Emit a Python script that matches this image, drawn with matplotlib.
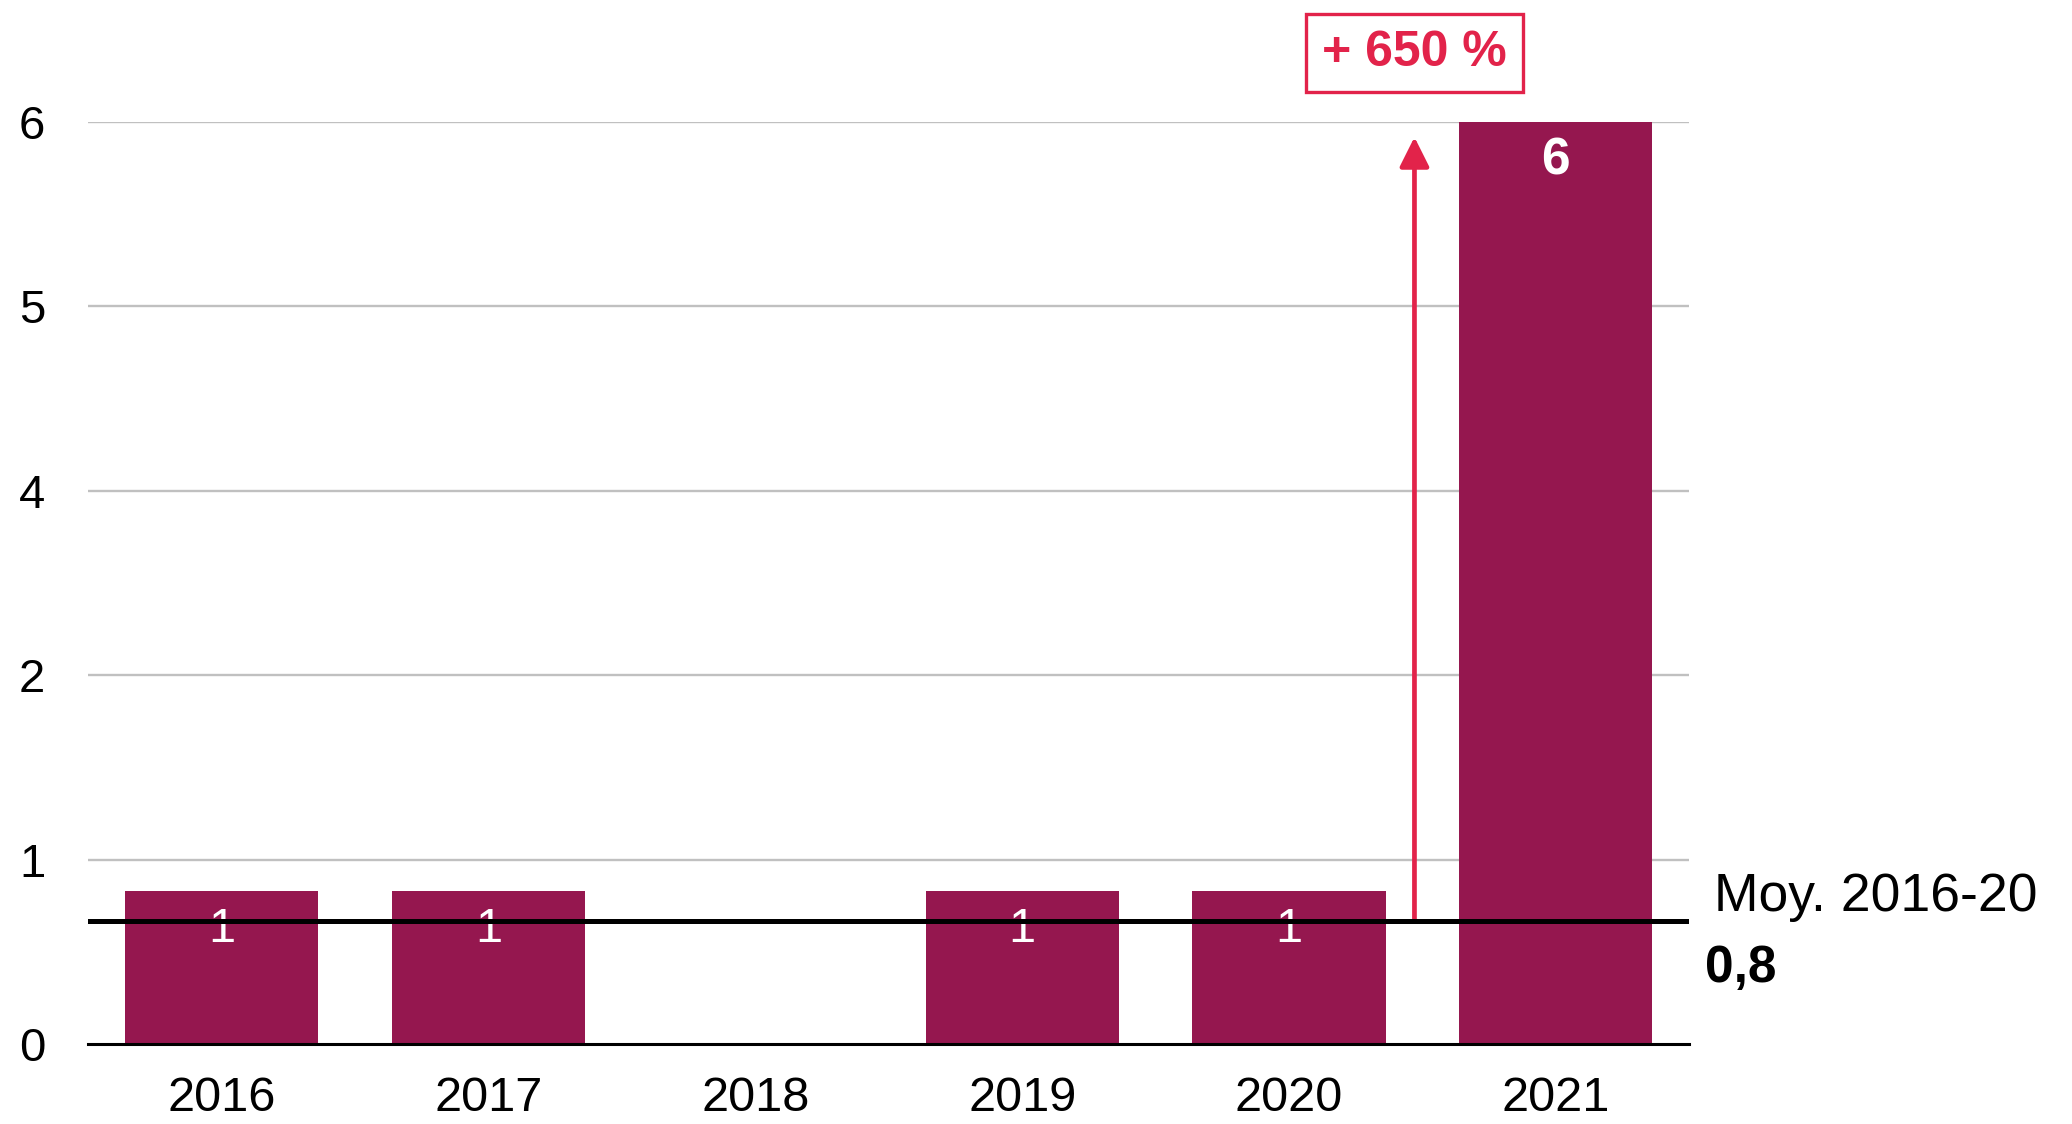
import matplotlib
matplotlib.use("Agg")
import matplotlib.pyplot as plt
import numpy as np

years = ['2016', '2017', '2018', '2019', '2020', '2021']
values = [1, 1, 0, 1, 1, 6]
mean_value = 0.8
mean_label = '0,8'
mean_title = 'Moy. 2016-20'
growth_label = '+ 650 %'

bar_color = '#95174f'
red = '#e2234a'

plt.rcParams['font.family'] = ['Liberation Sans', 'DejaVu Sans']

fig = plt.figure(figsize=(20.72, 11.24), dpi=100)
ax = fig.add_axes([0.0426, 0.0709, 0.7727, 0.8208])

x = np.arange(len(years))
ax.bar(x, values, width=0.724, color=bar_color, zorder=2)

# value labels inside the bars (zero bar has none)
for xi, v in zip(x, values):
    if v == 0:
        continue
    ax.annotate(str(v), xy=(xi, v), xytext=(0, -28), textcoords='offset points',
                ha='center', va='center', color='white', fontsize=35 if v < max(values) else 37,
                fontweight='bold' if v == max(values) else 'normal', zorder=3)

# average line
ax.axhline(mean_value, color='black', lw=3.6, zorder=4)
ax.annotate(mean_title, xy=(len(years) - 0.5, mean_value), xytext=(18, 7.5),
            textcoords='offset points', ha='left', va='baseline', fontsize=38.5,
            annotation_clip=False)
ax.annotate(mean_label, xy=(len(years) - 0.5, mean_value), xytext=(11.5, -44),
            textcoords='offset points', ha='left', va='baseline', fontsize=37,
            fontweight='bold', annotation_clip=False)

# growth arrow from the average up to 2021
arrow_x = x[-1] - 0.53
ax.annotate('', xy=(arrow_x, 5.9), xytext=(arrow_x, mean_value),
            arrowprops=dict(arrowstyle='-|>,head_length=1.0,head_width=0.5',
                            mutation_scale=18, color=red, lw=3.4,
                            shrinkA=0, shrinkB=0), zorder=3)
ax.text(arrow_x, 6.445, growth_label, ha='center', va='center', color=red,
        fontsize=36, fontweight='bold', clip_on=False,
        bbox=dict(boxstyle='square,pad=0.32', facecolor='white', edgecolor=red, lw=2.4))

yticks = np.linspace(0, 6, 6)
ax.set_yticks(yticks)
ax.set_yticklabels([f'{t:.0f}' for t in yticks])
ax.set_ylim(0, 6)
ax.set_xlim(-0.5, len(years) - 0.5)
ax.set_xticks(x)
ax.set_xticklabels(years)

for t in yticks[1:]:
    ax.axhline(t, color='#c0c0c0', lw=1.7, zorder=1)

for s in ['left', 'right', 'top']:
    ax.spines[s].set_visible(False)
ax.spines['bottom'].set_linewidth(2.2)
ax.spines['bottom'].set_zorder(5)
ax.tick_params(axis='y', length=0, labelsize=34, pad=31)
ax.tick_params(axis='x', length=0, labelsize=35, pad=23)

fig.savefig('out.png', dpi=100)
